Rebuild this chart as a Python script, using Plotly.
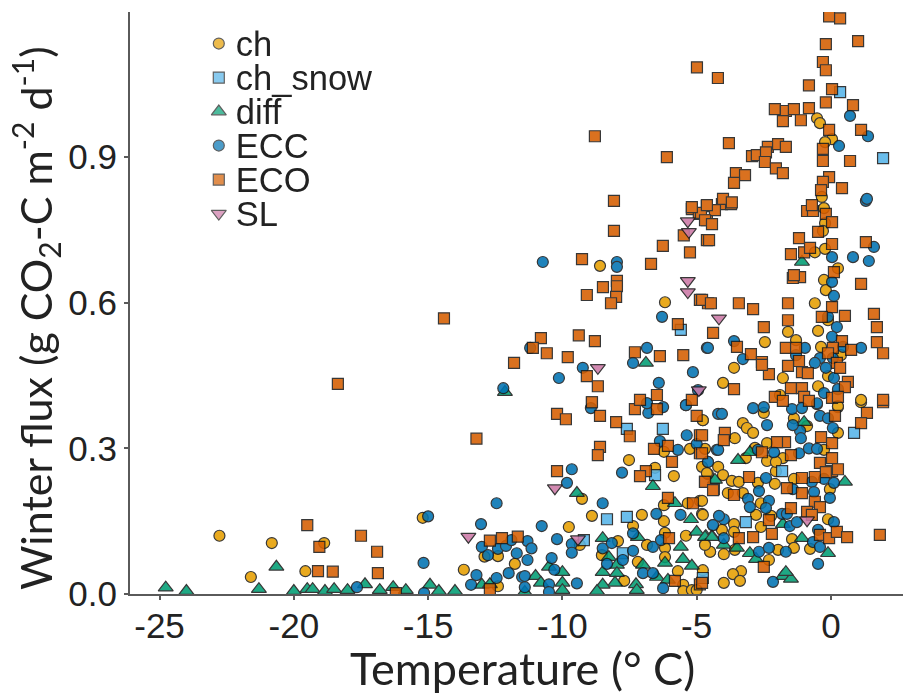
import plotly.graph_objects as go

ch_points = [(-22.77,.12),(-20.82,.105),(-21.6,.035),(-19.57,.047),(-18.87,.105),(-15.2,.157),(-13.67,.05),(-12.4,.078),(-11.77,.062),(-12.9,.077),(-12.4,.016),
(-9.76,.138),(-9.27,.196),(-8.9,.161),(-7.52,.276),(-7.04,.163),(-5.85,.243),(-6.22,.15),(-7.37,.14),(-7.93,.109),(-8.53,.08),(-7.19,.066),(-6.85,.101),(-6.18,.095),(-6.18,.076),(-6.18,.126),(-5.4,.12),(-4.8,.165),(-4.88,.192),(-5.33,.187),(-6.22,.183),(-5.25,.299),(-4.69,.299),(-6.22,.293),(-4.77,.358),(-6.55,.26),(-4.8,.262),(-4.58,.247),(-4.5,.087),(-4.69,.103),(-5.7,.047),(-7.7,.027),(-5.5,.019),(-5.5,.006),(-5.18,.008),(-5,.008),(-9.35,.101),
(-3.28,.352),(-3.13,.342),(-2.9,.332),(-2.5,.373),(-3.58,.321),(-1.38,.362),(-.89,.346),(.26,.332),(.26,.385),(1.12,.395),(-4.77,.358),(-2.38,.311),(-1.79,.28),(-2.38,.274),(-2.05,.253),(-2.05,.272),(-.26,.297),(-3.17,.28),(-2.83,.301),(-4.2,.262),(-4.02,.245),(-4.62,.249),(-3.69,.233),(-3.43,.231),(-3.84,.208),(-3.28,.208),(-2.72,.229),(-2.09,.227),(-1.38,.237),(-.04,.216),(-2.61,.187),(-4.8,.192),(-4.77,.163),(-2.79,.163),(-2.23,.161),(-.11,.154),(-3.61,.144),(-3.61,.128),(-4.06,.132),(-2.61,.138),(-1.45,.113),(-1.38,.095),(-1.97,.091),(-.78,.093),(-4.5,.087),(-3.99,.082),(-3.58,.091),(-4.69,.101),(-2.31,.07),(-3.35,.047),(-3.65,.041),(-3.39,.027),(-3.99,.023),(-4.77,.049),
(-8.6,.676),(-6.18,.601),(-1.6,.54),(-1.3,.523),(-.6,.599),(-.48,.542),(-2.46,.519),(-3.61,.466),(-4.02,.435),(-1.79,.445),(-.37,.509),(-.11,.449),(.37,.492),(.26,.671),(-.26,.647),(-.19,.626),(-.6,.704),(-.22,.711),(-.26,.795),(-.22,.764),(-.3,.748),(-1.9,.41),(-.48,.428),(1.12,.4),(-.11,.564),(.26,.387),
(-.52,.98),(-.41,.97),(.04,.937),(-.22,.931),(-.34,.818)]

ch_snow_points = [(-6.26,.34),(-7.6,.34),(-6.55,.245),(-8.34,.154),(-7.6,.159),(-9.2,.111),(-7.75,.084),(-4.77,.033),(-3.17,.148),(.86,.332),(-1.82,.253),(-5.59,.544),(.34,1.034),(1.94,.898)]

diff_points = [(-24.77,.013),(-24,.006),(-21.3,.01),(-20.65,.056),(-20,.006),(-19.5,.01),(-19.3,.01),(-18.84,.006),(-18.5,.01),(-18,.008),(-17.35,.02),(-16.8,.008),(-16.3,.014),(-15.83,.008),(-14.93,.019),(-14.6,.006),(-14,.006),(-13,.019),(-12.7,.02),
(-9.46,.208),(-6.63,.222),(-5.81,.187),(-5.21,.154),(-5,.128),(-4.66,.119),(-4.43,.119),(-8.5,.115),(-5.59,.097),(-5.51,.072),(-5.18,.058),(-8.27,.076),(-7.97,.06),(-7.97,.043),(-8.5,.045),(-8.04,.023),(-8.5,.019),(-8.71,.006),(-7.26,.02),(-7.23,.008),(-7,.06),(-6.48,.035),(-6.07,.029),(-7.19,.117),(-11,.037),(-10.8,.023),(-10,.045),(-10,.023),(-10,.008),(-10.5,.056),(-11.4,.004),(-6.18,.064),
(-3.46,.276),(-4.32,.235),(-4.69,.117),(-4.43,.117),(-3.99,.101),(-3.5,.095),(-3.02,.084),(-2.79,.072),(-1.08,.115),(-.11,.084),(.52,.231),(-1.79,.037),(-1.49,.031),(-1.68,.045),(-1.79,.144),(-3.02,.292),(-1,.354),(-6.89,.476),(-12.14,.416),(-1.08,.684)]

ecc_points = [(-17.65,.014),(-15.17,.064),(-15,.16),(-15.15,.002),(-12.45,.187),(-13.03,.144),(-13,.097),(-12.77,.08),(-12.4,.093),(-12.1,.099),(-11.9,.111),(-11.7,.084),(-11.3,.109),(-11.3,.07),(-13.2,.039),(-13.4,.019),(-12.45,.033),(-12,.043),(-11.5,.035),(-11.4,.014),
(-10.77,.14),(-10.2,.113),(-11.15,.094),(-10.4,.074),(-10.3,.05),(-11.4,.037),(-10.5,.02),(-10.5,.004),(-9.65,.257),(-9.83,.229),(-9.65,.103),(-9.65,.085),(-9.46,.022),(-8.5,.187),(-7.78,.25),(-8.5,.094),(-8.16,.105),(-8.34,.062),(-7.75,.07),(-7.37,.125),(-7.37,.089),(-7,.043),(-6.63,.043),(-6.63,.097),(-6.33,.111),(-6.5,.165),(-5.6,.163),(-6.25,.012),(-4.4,.142),(-5.37,.327),(-6.37,.315),(-5.7,.297),(-5,.309),(-4.58,.272),(-8.94,.383),(-6.8,.373),(-6.85,.393),(-6.25,.385),(-5.4,.389),(-4.2,.371),(-4.25,.297),
(-4.06,.371),(-2.9,.383),(-2.5,.385),(-1.45,.381),(-1.08,.383),(-.52,.391),(-.41,.367),(-.11,.362),(.07,.342),(-2.38,.348),(-1.15,.336),(-1.12,.321),(-1.42,.348),(-4.2,.297),(-2.72,.297),(-2.12,.292),(-1.19,.29),(-.82,.3),(-.52,.299),(-4.58,.272),(-2.42,.239),(-1.42,.216),(-.71,.231),(-.26,.237),(.11,.229),(-.63,.21),(-.04,.198),(-2.68,.212),(-3.09,.196),(-3.02,.179),(-2.31,.192),(-2.42,.177),(-1.82,.165),(-1.64,.165),(-1.53,.14),(-1.27,.148),(.11,.148),(-.48,.132),(-4.39,.142),(-3.99,.154),(-4.17,.161),(-3.99,.115),(-.67,.107),(-.41,.097),(-2.68,.087),(-2.31,.095),(-1.68,.087),(-.48,.062),(-2.16,.025),
(-10.73,.684),(-7.97,.684),(-7.97,.674),(-6.29,.571),(-11.2,.507),(-6.85,.507),(-4.62,.507),(-7.37,.476),(-9.24,.466),(-10.13,.445),(-5.14,.457),(-6.41,.435),(-4.95,.42),(-5.4,.389),(-12.2,.424),(-6.85,.393),
(1.3,.81),(1.6,.715),(.82,.694),(1.41,.686),(.04,.694),(.04,.643),(.11,.614),(-.11,.571),(.22,.55),(.04,.53),(-.97,.507),(1.12,.507),(-4.58,.507),(-3.61,.521),(-3.28,.484),(-1.3,.492),(-.41,.486),(-.6,.476),(-.19,.466),(.07,.486),(.11,.445),(.26,.422),(-.26,.414),(-.52,.393),(.45,.509),
(.71,.985),(1.38,.943),(.3,.923),(1.34,.814)]

eco_points = [(-19.5,.142),(-19.05,.097),(-19.1,.047),(-18.55,.046),(-17.5,.12),(-16.9,.087),(-16.87,.043),(-16.2,.002),(-13.2,.32),(-12.7,.11),(-12.25,.115),(-11.66,.118),(-12.7,.01),(-14.41,.568),(-18.36,.433),
(-10.2,.371),(-9.87,.36),(-8.6,.367),(-8.9,.395),(-7.3,.381),(-6.48,.381),(-8,.354),(-7.49,.325),(-8.6,.303),(-8.68,.286),(-6.59,.299),(-6.07,.305),(-5.92,.272),(-4.88,.327),(-5,.367),(-4.88,.29),(-10.2,.253),(-6.89,.253),(-7.11,.243),(-4.69,.231),(-4.36,.216),(-6.07,.198),(-5.14,.187),(-6.03,.115),(-5.81,.027),(-4.88,.02),
(1.94,.395),(1.34,.373),(1.12,.352),(.15,.367),(-.37,.323),(.04,.311),(-3.95,.332),(-3.99,.317),(-4.8,.327),(-4.8,.29),(-.41,.27),(.04,.28),(.04,.253),(.26,.257),(-.19,.251),(-1.71,.313),(-2.01,.313),(-1.49,.286),(-2.57,.292),(-3.05,.241),(-1.08,.239),(-.6,.241),(-4.69,.231),(-4.39,.214),(-3.61,.204),(-1.08,.208),(-1.64,.218),(-.6,.19),(-.41,.179),(-1.49,.177),(-.89,.169),(-.71,.163),(-2.31,.152),(-2.2,.124),(-2.9,.117),(-3.43,.115),(-.41,.122),(-.07,.115),(.22,.128),(.6,.117),(1.82,.122),(-2.5,.056),(-4.8,.023),
(-8.08,.748),(-8.08,.81),(-6.26,.717),(-5.25,.704),(-9.27,.69),(-6.7,.68),(-7.97,.645),(-7.97,.634),(-8.49,.632),(-9.09,.616),(-8,.612),(-8.19,.599),(-4.88,.606),(-4.58,.599),(-5.7,.556),(-10.8,.527),(-9.39,.533),(-8.79,.521),(-10.58,.496),(-11.1,.507),(-9.8,.488),(-11.8,.476),(-7.3,.498),(-6.37,.49),(-5.5,.492),(-9.09,.449),(-8.68,.428),(-8.9,.395),(-7.11,.4),(-6.48,.41),(-5.18,.4),(-5.48,.739),(-5.18,.793),(-4.92,.783),(-4.62,.77),(-4.62,.729),(-8.79,.943),
(-4.62,.799),(-4.06,.803),(-3.72,.803),(-4.32,.791),(-4.84,.785),(-4.69,.77),(-4.43,.762),(-4.54,.729),(-4.8,.606),(-4.47,.599),(-3.43,.599),(-2.9,.587),(-4.39,.538),(-2.5,.55),(-1.6,.599),(-1.6,.564),(-1.19,.733),(-1.49,.7),(-1,.704),(-.78,.713),(.04,.721),(1.3,.725),(-1.15,.653),(-1.42,.651),(-1.38,.657),(1.12,.639),(.04,.591),(-.34,.571),(.52,.573),(1.6,.577),(1.71,.55),(1.71,.519),(1.94,.496),(.41,.521),(.07,.507),(.75,.503),(-1.68,.507),(-1.3,.507),(-3.5,.509),(-2.98,.494),(-2.57,.478),(-1.19,.48),(-.11,.496),(.22,.476),(.34,.466),(-1.6,.47),(-2.31,.453),(-1.08,.457),(-.86,.455),(.63,.437),(.52,.426),(-3.61,.422),(-1.49,.424),(-1.08,.424),(-2.09,.406),(-1.79,.398),(-1,.406),(-.82,.398),(1.94,.4),(.04,.404),(.26,.406),(-.89,.789),(-.67,.789),(-.19,.783),(.04,.766),(-.48,.746),(.11,.663),(-.71,.801),(-2.57,.472),
(-.07,1.19),(.34,1.186),(1.01,1.139),(-.19,1.133),(-.3,1.096),(-.19,1.079),(-4.99,1.085),(-4.21,1.063),(-.82,1.048),(.04,1.04),(-.19,1.013),(.82,1.007),(-2.09,.999),(-1.68,.995),(-1.38,.999),(-.82,1.001),(-1.79,.974),(-1.12,.976),(1.12,.956),(-.07,.956),(-3.8,.929),(-6.11,.9),(-2.35,.921),(-1.97,.927),(-1.68,.921),(-2.94,.902),(-2.76,.904),(-2.42,.91),(-2.46,.89),(-2.05,.877),(-1.79,.867),(-3.54,.867),(-3.2,.863),(-3.61,.847),(-.3,.917),(-.3,.892),(.71,.892),(-.07,.859),(-.3,.849),(-.37,.832),(.41,.836),(-4.02,.814),(-3.69,.807),(-4.62,.801),(-5.18,.797)]

sl_points = [(-13.5,.118),(-10.28,.218),(-9.42,.113),(-.89,.152),(-8.68,.466),(-5.33,.768),(-5.29,.746),(-5.33,.645),(-5.33,.622),(-4.92,.42),(-4.17,.568)]

series_names = ["ch", "ch_snow", "diff", "ECC", "ECO", "SL"]
series_points = [ch_points, ch_snow_points, diff_points, ecc_points, eco_points, sl_points]
series_colors = ["#E69F00", "#56B4E9", "#009E73", "#0072B2", "#D55E00", "#CC79A7"]
series_symbols = ["circle", "square", "triangle-up", "circle", "square", "triangle-down"]
series_sizes = [11, 11, 13, 11, 11, 13]

x_ticks = [-25, -20, -15, -10, -5, 0]
x_tick_labels = ["-25", "-20", "-15", "-10", "-5", "0"]
y_ticks = [0.0, 0.3, 0.6, 0.9]
y_tick_labels = ["0.0", "0.3", "0.6", "0.9"]

OUTLINE = "#1c1c1c"
AXIS = "#5a5a5a"
TEXT = "#222222"

fig = go.Figure()
for name, pts, col, sym, sz in zip(series_names, series_points, series_colors, series_symbols, series_sizes):
    fig.add_trace(go.Scatter(
        x=[p[0] for p in pts], y=[p[1] for p in pts], mode="markers", name=name,
        showlegend=False, opacity=0.88,
        marker=dict(color=col, symbol=sym, size=sz, line=dict(color=OUTLINE, width=1.2)),
    ))

# key drawn on its own category axes so its rows can sit as tightly as the original's
fig.add_trace(go.Scatter(
    x=[0] * len(series_names), y=series_names, mode="markers", xaxis="x2", yaxis="y2", showlegend=False,
    marker=dict(color=series_colors, symbol=series_symbols, size=series_sizes, line=dict(color=OUTLINE, width=1.2)),
    hoverinfo="skip",
))
fig.add_trace(go.Scatter(
    x=[0.085] * len(series_names), y=series_names, text=series_names, mode="text",
    textposition="middle right", textfont=dict(family="Liberation Sans", size=34.5, color=TEXT),
    xaxis="x3", yaxis="y3", showlegend=False, hoverinfo="skip",
))

fig.update_layout(
    width=903, height=690, autosize=False,
    margin=dict(l=122, r=0, t=4, b=104),
    paper_bgcolor="white", plot_bgcolor="rgba(0,0,0,0)",
    xaxis=dict(
        range=[-26.1, 2.98], tickvals=x_ticks, ticktext=x_tick_labels, showgrid=False, zeroline=False,
        showline=True, linecolor=AXIS, linewidth=2, ticks="outside", ticklen=4, tickcolor=AXIS, tickwidth=1.5,
        tickfont=dict(family="Liberation Sans", size=35, color=TEXT), ticklabelstandoff=-4,
    ),
    yaxis=dict(
        range=[0, 1.199], tickvals=y_ticks, ticktext=y_tick_labels, showgrid=False, zeroline=False,
        showline=True, linecolor=AXIS, linewidth=2, ticks="outside", ticklen=4, tickcolor=AXIS, tickwidth=1.5,
        tickfont=dict(family="Liberation Sans", size=35, color=TEXT),
    ),
    xaxis2=dict(type="linear", domain=[0.088, 0.345], range=[-0.1, 0.9], anchor="y2", visible=False, fixedrange=True),
    yaxis2=dict(domain=[0.6245, 0.975], range=[5.5, -0.5], anchor="x2", type="category",
                categoryorder="array", categoryarray=series_names, visible=False, fixedrange=True),
    xaxis3=dict(type="linear", domain=[0.088, 0.345], range=[-0.1, 0.9], anchor="y3", visible=False, fixedrange=True),
    yaxis3=dict(domain=[0.6175, 0.968], range=[5.5, -0.5], anchor="x3", type="category",
                categoryorder="array", categoryarray=series_names, visible=False, fixedrange=True),
    annotations=[
        dict(text="Winter flux (g CO<sub>2</sub>-C m<sup>-2</sup> d<sup>-1</sup>)",
             xref="paper", yref="paper", x=-0.1218, y=0.474, xanchor="center", yanchor="middle",
             textangle=-90, showarrow=False, font=dict(family="Lato", size=43, color=TEXT)),
        dict(text="Temperature (° C)",
             xref="paper", yref="paper", x=0.503, y=-0.127, xanchor="center", yanchor="middle",
             showarrow=False, font=dict(family="Lato", size=45, color=TEXT)),
    ],
)

fig.write_html("out.html")
